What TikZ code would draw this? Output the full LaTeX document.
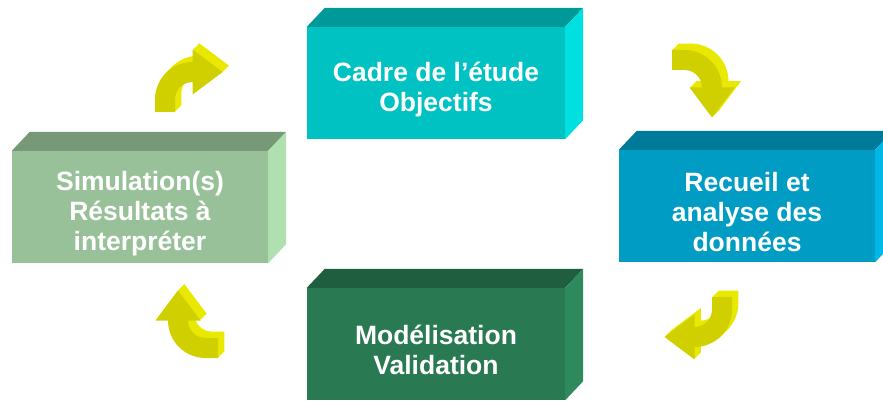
\documentclass[tikz,border=0pt]{standalone}
\usepackage{fontspec}
\setmainfont{Liberation Sans}
\definecolor{cadreF}{HTML}{00C2C2}
\definecolor{cadreT}{HTML}{009999}
\definecolor{cadreR}{HTML}{00E0E0}
\definecolor{recF}{HTML}{009CC4}
\definecolor{recT}{HTML}{007A99}
\definecolor{recR}{HTML}{00B8E6}
\definecolor{simF}{HTML}{99C199}
\definecolor{simT}{HTML}{779977}
\definecolor{simR}{HTML}{B0E0B0}
\definecolor{modF}{HTML}{297A52}
\definecolor{modT}{HTML}{1F5E3F}
\definecolor{modR}{HTML}{2E8A5C}
\definecolor{arrF}{HTML}{D0D000}
\definecolor{arrS}{HTML}{E8E800}
\newcommand\topstrut{\rule{0pt}{32pt}}
\tikzset{
  face/.style={rectangle, minimum width=256pt, minimum height=112pt, inner sep=0pt,
    align=center, text=white, font=\fontsize{26.5}{30}\selectfont\bfseries},
  arrowside/.style={fill=arrS},
  arrowfront/.style={fill=arrF},
}
\def\arrowpath{(0,0) -- (16,0) -- (16,10) arc[start angle=180,end angle=90,radius=14]
  -- (30,14) -- (54,32) -- (30,50) -- (30,40) arc[start angle=90,end angle=180,radius=30] -- cycle}
\newcommand\boxfaces[3]{%
  \fill[#2] (#1.north west) -- ([shift={(18,19)}]#1.north west) -- ([shift={(18,19)}]#1.north east) -- (#1.north east) -- cycle;
  \fill[#3] (#1.south east) -- ([shift={(18,19)}]#1.south east) -- ([shift={(18,19)}]#1.north east) -- (#1.north east) -- cycle;}
\newcommand\yellowarrow[3]{%
  \foreach \k in {1,...,8}{\fill[arrowside, shift={(#1+\k*0.8,#2+\k*0.8)}, rotate=#3, scale=1.25] \arrowpath;}
  \fill[arrowfront, shift={(#1,#2)}, rotate=#3, scale=1.25] \arrowpath;}
\begin{document}
\begin{tikzpicture}[x=1pt,y=1pt]
\useasboundingbox (0,0) rectangle (883,402);
\node[face, fill=cadreF, minimum width=258pt] (cadre) at (436,319) {\topstrut Cadre de l’étude\\Objectifs};
\boxfaces{cadre}{cadreT}{cadreR}
\node[face, fill=recF] (recueil) at (747,196) {\topstrut Recueil et\\analyse des\\données};
\boxfaces{recueil}{recT}{recR}
\node[face, fill=simF] (simu) at (140,195) {\topstrut Simulation(s)\\Résultats à\\interpréter};
\boxfaces{simu}{simT}{simR}
\node[face, fill=modF, minimum width=258pt] (modele) at (436,58) {\topstrut Modélisation\\Validation};
\boxfaces{modele}{modT}{modR}
\yellowarrow{155}{290}{0}
\yellowarrow{672}{352}{-90}
\yellowarrow{732}{105}{180}
\yellowarrow{218}{44}{90}
\end{tikzpicture}
\end{document}
